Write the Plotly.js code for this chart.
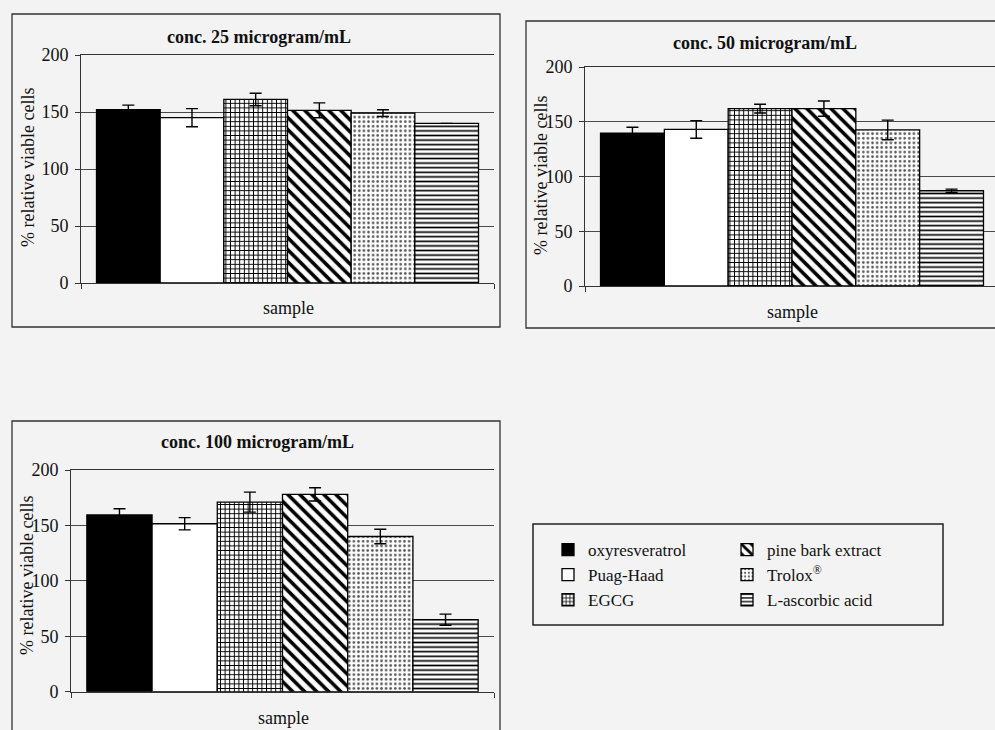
<!DOCTYPE html>
<html>
<head>
<meta charset="utf-8">
<script src="https://cdn.plot.ly/plotly-3.0.1.min.js"></script>
<style>
  html, body { margin: 0; padding: 0; background: #f3f3f3; }
  #chart { width: 995px; height: 730px; }
</style>
</head>
<body>
<div id="chart"></div>
<script>
// ---- data ----
const samples = ['oxyresveratrol', 'Puag-Haad', 'EGCG', 'pine bark extract', 'Trolox<sup>®</sup>', 'L-ascorbic acid'];
const panelTitles = ['conc. 25 microgram/mL', 'conc. 50 microgram/mL', 'conc. 100 microgram/mL'];
const conc25  = [152, 145, 161, 151.5, 149, 140];
const err25   = [4, 8, 5.5, 6.5, 3, 0];
const conc50  = [139.5, 143, 162, 162, 142.5, 87];
const err50   = [5.5, 8, 4, 7, 9, 1.5];
const conc100 = [159.5, 151.5, 171, 178, 140, 65];
const err100  = [5.5, 5.5, 9, 6, 6.5, 5];
const yTicks  = [0, 50, 100, 150, 200];
const xCategory = ['sample'];
const yTitle = '% relative viable cells';
const xTitle = 'sample';

// ---- styles ----
const W = 995, H = 730;
const px = v => v / W;
const py = v => 1 - v / H;
const FONT = 'Liberation Serif';
const styles = [
  {color: '#000000'},
  {color: '#ffffff'},
  {color: '#ffffff', pattern: {shape: '+', fgcolor: '#000', bgcolor: '#fff', size: 4.6, solidity: 0.38, fillmode: 'replace'}},
  {color: '#ffffff', pattern: {shape: '\\', fgcolor: '#000', bgcolor: '#fff', size: 8.5, solidity: 0.42, fillmode: 'replace'}},
  {color: '#ffffff', pattern: {shape: '.', fgcolor: '#555', bgcolor: '#fcfcfc', size: 4.6, solidity: 0.25, fillmode: 'replace'}},
  {color: '#ffffff', pattern: {shape: '-', fgcolor: '#000', bgcolor: '#fff', size: 4.6, solidity: 0.36, fillmode: 'replace'}}
];

const panels = [
  {vals: conc25,  errs: err25,  xa: 'x',  ya: 'y'},
  {vals: conc50,  errs: err50,  xa: 'x2', ya: 'y2'},
  {vals: conc100, errs: err100, xa: 'x3', ya: 'y3'}
];

const traces = [];
panels.forEach((p, pi) => {
  samples.forEach((s, i) => {
    const st = styles[i];
    const marker = {color: st.color, line: {color: '#000', width: 1.3}};
    if (st.pattern) marker.pattern = st.pattern;
    traces.push({
      type: 'bar',
      name: s,
      x: xCategory,
      y: [p.vals[i]],
      error_y: {type: 'data', array: [p.errs[i]], visible: true, color: '#000', thickness: 1.4, width: 6},
      marker: marker,
      xaxis: p.xa,
      yaxis: p.ya,
      legendgroup: s,
      showlegend: pi === 0,
      legend: i < 3 ? 'legend' : 'legend2',
      hoverinfo: 'name+y'
    });
  });
});

const yBase = {
  range: [0, 200], tickvals: yTicks, ticks: 'outside', ticklen: 5, tickcolor: '#333',
  showgrid: true, gridcolor: '#4a4a4a', gridwidth: 1, zeroline: false,
  showline: true, linecolor: '#333', linewidth: 1,
  tickfont: {family: FONT, size: 18, color: '#111'}, ticklabelstandoff: 3, fixedrange: true
};
const xBase = {
  type: 'category', ticks: 'outside', ticklen: 5, tickcolor: '#333', tickson: 'boundaries',
  showticklabels: false, showgrid: false, zeroline: false,
  showline: true, linecolor: '#333', linewidth: 1, mirror: true, fixedrange: true
};

const legendBase = {
  xanchor: 'left', y: py(532), yanchor: 'top', bgcolor: 'rgba(0,0,0,0)', borderwidth: 0,
  font: {family: FONT, size: 17, color: '#111'}, tracegroupgap: 0, itemclick: false, itemdoubleclick: false
};

const layout = {
  width: W, height: H,
  margin: {l: 0, r: 0, t: 0, b: 0},
  paper_bgcolor: '#f3f3f3',
  plot_bgcolor: 'rgba(0,0,0,0)',
  barmode: 'group', bargap: 0.075, bargroupgap: 0,
  font: {family: FONT, color: '#111'},
  xaxis:  Object.assign({}, xBase, {domain: [px(81), px(494)], range: [-0.5, 0.5], anchor: 'y'}),
  yaxis:  Object.assign({}, yBase, {domain: [py(283), py(55)], anchor: 'x'}),
  xaxis2: Object.assign({}, xBase, {domain: [px(585), 1], range: [-0.5, -0.5 + 410 / 414], anchor: 'y2'}),
  yaxis2: Object.assign({}, yBase, {domain: [py(286), py(67)], anchor: 'x2'}),
  xaxis3: Object.assign({}, xBase, {domain: [px(71), px(494)], range: [-0.5, 0.5], anchor: 'y3'}),
  yaxis3: Object.assign({}, yBase, {domain: [py(691.7), py(470)], anchor: 'x3'}),
  legend:  Object.assign({}, legendBase, {x: px(548)}),
  legend2: Object.assign({}, legendBase, {x: px(727)}),
  shapes: [
    {type: 'rect', xref: 'paper', yref: 'paper', x0: px(12), x1: px(500), y0: py(327), y1: py(14), line: {color: '#333', width: 1.3}},
    {type: 'rect', xref: 'paper', yref: 'paper', x0: px(526), x1: 1.02, y0: py(328), y1: py(21), line: {color: '#333', width: 1.3}},
    {type: 'rect', xref: 'paper', yref: 'paper', x0: px(12), x1: px(500), y0: -0.02, y1: py(421), line: {color: '#333', width: 1.3}},
    {type: 'rect', xref: 'paper', yref: 'paper', x0: px(533), x1: px(943), y0: py(625), y1: py(524), line: {color: '#222', width: 1.5}}
  ],
  annotations: [
    {text: '<b>' + panelTitles[0] + '</b>', x: px(259), y: py(37), size: 18},
    {text: '<b>' + panelTitles[1] + '</b>', x: px(765), y: py(43), size: 18},
    {text: '<b>' + panelTitles[2] + '</b>', x: px(257), y: py(442), size: 18},
    {text: yTitle, x: px(28), y: py(168), textangle: -90, size: 18},
    {text: yTitle, x: px(541), y: py(176), textangle: -90, size: 18},
    {text: yTitle, x: px(27), y: py(576), textangle: -90, size: 18},
    {text: xTitle, x: px(288), y: py(308), size: 18},
    {text: xTitle, x: px(792), y: py(312), size: 18},
    {text: xTitle, x: px(283), y: py(718), size: 18}
  ].map(a => ({
    text: a.text, x: a.x, y: a.y, xref: 'paper', yref: 'paper', showarrow: false,
    xanchor: 'center', yanchor: 'middle', textangle: a.textangle || 0,
    font: {family: FONT, size: a.size, color: '#111'}
  }))
};

Plotly.newPlot('chart', traces, layout, {displayModeBar: false, responsive: false});
</script>
</body>
</html>
